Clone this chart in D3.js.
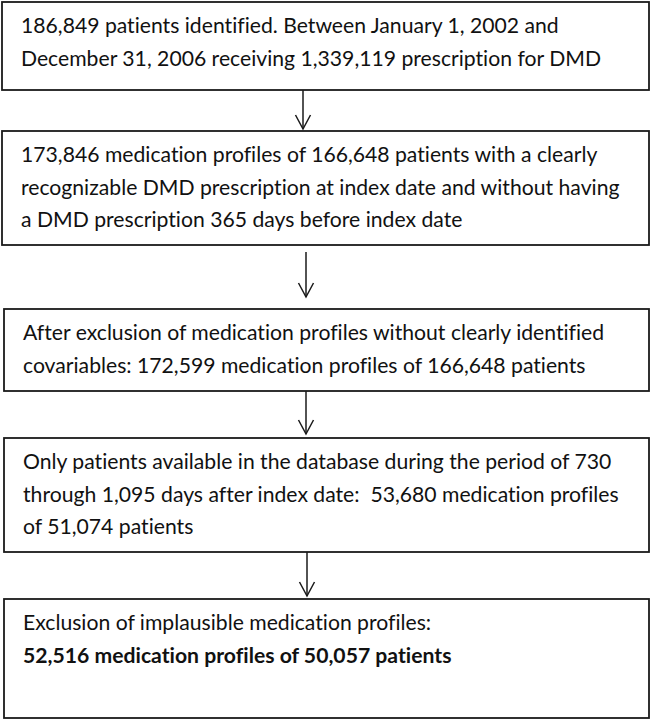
<!DOCTYPE html>
<html><head><meta charset="utf-8">
<script src="https://cdn.jsdelivr.net/npm/d3@7"></script>
<style>
html,body{margin:0;padding:0;background:#fff;}
svg{display:block;}
text{white-space:pre;font-variant-ligatures:none;font-feature-settings:"liga" 0,"clig" 0;}
</style></head>
<body>
<svg id="chart" width="651" height="723"></svg>
<script>
// ---- data: flow steps (text lines) ----
const step1 = ["186,849 patients identified. Between January 1, 2002 and",
               "December 31, 2006 receiving 1,339,119 prescription for DMD"];
const step2 = ["173,846 medication profiles of 166,648 patients with a clearly",
               "recognizable DMD prescription at index date and without having",
               "a DMD prescription 365 days before index date"];
const step3 = ["After exclusion of medication profiles without clearly identified",
               "covariables: 172,599 medication profiles of 166,648 patients"];
const step4 = ["Only patients available in the database during the period of 730",
               "through 1,095 days after index date:  53,680 medication profiles",
               "of 51,074 patients"];
const step5 = ["Exclusion of implausible medication profiles:",
               "52,516 medication profiles of 50,057 patients"];
const boldLines = [[], [], [], [], [1]];
const steps = [step1, step2, step3, step4, step5];

// ---- layout ----
const boxes = [
  {x0: 2, x1: 649, y0: 2,   y1: 90},
  {x0: 2, x1: 649, y0: 131, y1: 245},
  {x0: 4, x1: 649, y0: 309, y1: 391},
  {x0: 4, x1: 649, y0: 438, y1: 552},
  {x0: 4, x1: 649, y0: 599, y1: 718}
];
const arrows = [
  {x: 303, y0: 90,  y1: 129},
  {x: 306, y0: 252, y1: 297},
  {x: 306, y0: 391, y1: 434},
  {x: 307, y0: 552, y1: 596}
];
const textPadX = 19, firstBase = 31, lineGap = 32.5;
const fontFamily = "Lato, 'Open Sans', sans-serif";
const fontSize = 21;

const svg = d3.select("#chart");
const ink = "#1a1a1a";

// boxes
svg.selectAll("rect.box").data(boxes).join("rect")
  .attr("class", "box")
  .attr("x", d => d.x0).attr("y", d => d.y0)
  .attr("width", d => d.x1 - d.x0).attr("height", d => d.y1 - d.y0)
  .attr("fill", "none").attr("stroke", ink).attr("stroke-width", 1.8);

// arrows
const ag = svg.selectAll("g.arrow").data(arrows).join("g").attr("class", "arrow");
ag.append("line")
  .attr("x1", d => d.x).attr("x2", d => d.x)
  .attr("y1", d => d.y0).attr("y2", d => d.y1)
  .attr("stroke", ink).attr("stroke-width", 1.5);
ag.append("path")
  .attr("d", d => `M${d.x - 7.5},${d.y1 - 14} L${d.x},${d.y1} L${d.x + 7.5},${d.y1 - 14}`)
  .attr("fill", "none").attr("stroke", ink).attr("stroke-width", 1.5);

// texts
const tg = svg.selectAll("g.txt").data(steps).join("g").attr("class", "txt");
const allTexts = [];
tg.each(function(lines, i) {
  const b = boxes[i];
  d3.select(this).selectAll("text").data(lines).join("text")
    .attr("x", b.x0 + textPadX)
    .attr("y", (d, j) => b.y0 + firstBase + j * lineGap)
    .attr("xml:space", "preserve")
    .attr("font-family", fontFamily)
    .attr("font-size", fontSize)
    .attr("font-weight", (d, j) => boldLines[i].includes(j) ? "bold" : "normal")
    .attr("fill", "#111")
    .text(d => d)
    .each(function() { allTexts.push(this); });
});

// horizontal condense to mimic the narrower original face
const refTarget = 580; // width of "December 31, ..." line in the reference
const refNode = allTexts[1];
const k = refTarget / refNode.getComputedTextLength();
allTexts.forEach(n => {
  const w = n.getComputedTextLength();
  d3.select(n).attr("textLength", w * k).attr("lengthAdjust", "spacingAndGlyphs");
});
</script>
</body></html>
